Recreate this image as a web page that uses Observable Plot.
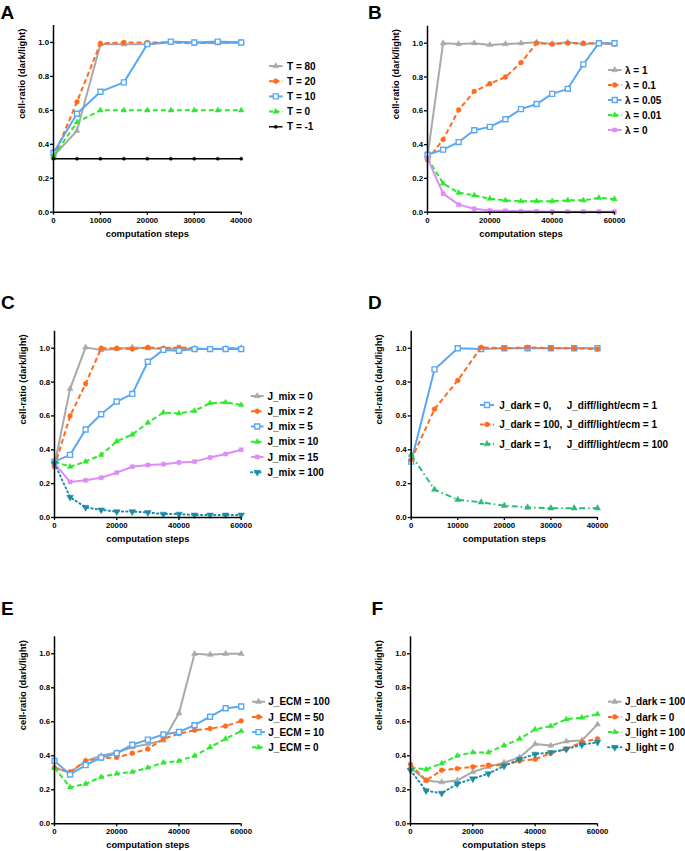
<!DOCTYPE html>
<html><head><meta charset="utf-8">
<script src="https://cdn.jsdelivr.net/npm/d3@7"></script>
<script src="https://cdn.jsdelivr.net/npm/@observablehq/plot@0.6"></script>
<style>
html,body{margin:0;padding:0;background:#fff;}
#page{position:relative;width:685px;height:851px;overflow:hidden;background:#fff;font-family:"Liberation Sans",Arial,sans-serif;font-weight:bold;}
.panel{position:absolute;}
#overlay{position:absolute;left:0;top:0;pointer-events:none;}
</style></head><body><div id="page"></div>
<script>
// ---------- data ----------
const steps40k = [0,5000,10000,15000,20000,25000,30000,35000,40000];
const steps60k = [0,5000,10000,15000,20000,25000,30000,35000,40000,45000,50000,55000,60000];
const yTicks = [0,0.2,0.4,0.6,0.8,1.0];
const xTicks40k = [0,10000,20000,30000,40000];
const xTicks60k = [0,20000,40000,60000];
const xTitle = "computation steps";
const yTitle = "cell-ratio (dark/light)";
const panelLetters = ["A","B","C","D","E","F"];

// Panel A
const A_labels = ["T = 80","T = 20","T = 10","T = 0","T = -1"];
const A_T80 = [0.33,0.48,0.99,0.99,0.99,1.0,1.0,0.995,1.0];
const A_T20 = [0.32,0.65,0.995,1.0,1.0,1.0,0.995,1.0,1.0];
const A_T10 = [0.35,0.58,0.71,0.765,0.99,1.005,1.0,1.005,1.0];
const A_T0 = [0.33,0.53,0.60,0.60,0.60,0.60,0.60,0.60,0.60];
const A_Tm1 = [0.315,0.315,0.315,0.315,0.315,0.315,0.315,0.315,0.315];

// Panel B
const B_labels = ["λ = 1","λ = 0.1","λ = 0.05","λ = 0.01","λ = 0"];
const B_l1 = [0.33,1.0,0.995,1.0,0.99,0.995,1.0,1.005,0.995,1.005,0.995,1.0,0.995];
const B_l01 = [0.31,0.43,0.605,0.715,0.76,0.80,0.885,1.0,0.995,1.0,1.0,1.0,0.995];
const B_l005 = [0.34,0.37,0.415,0.485,0.505,0.55,0.61,0.64,0.70,0.73,0.875,1.0,1.0];
const B_l001 = [0.32,0.17,0.115,0.10,0.08,0.07,0.065,0.065,0.065,0.07,0.07,0.085,0.078];
const B_l0 = [0.32,0.11,0.045,0.02,0.01,0.008,0.005,0.005,0.003,0.003,0.003,0.003,0.003];

// Panel C
const C_labels = ["J_mix = 0","J_mix = 2","J_mix = 5","J_mix = 10","J_mix = 15","J_mix = 100"];
const C_m0 = [0.31,0.76,1.005,0.99,0.995,1.005,1.0,0.995,1.0,0.995,0.995,0.995,1.0];
const C_m2 = [0.30,0.60,0.79,1.0,1.0,0.995,1.005,1.0,1.005,1.0,0.995,1.0,1.0];
const C_m5 = [0.33,0.37,0.52,0.61,0.685,0.73,0.92,0.99,0.985,0.995,0.995,0.995,0.995];
const C_m10 = [0.33,0.30,0.33,0.37,0.45,0.49,0.56,0.62,0.615,0.63,0.675,0.68,0.665];
const C_m15 = [0.32,0.21,0.22,0.235,0.265,0.30,0.31,0.315,0.325,0.33,0.355,0.375,0.40];
const C_m100 = [0.32,0.12,0.06,0.045,0.035,0.035,0.03,0.02,0.02,0.015,0.015,0.015,0.015];

// Panel D
const D_labelsA = ["J_dark = 0,","J_dark = 100,","J_dark = 1,"];
const D_labelsB = ["J_diff/light/ecm = 1","J_diff/light/ecm = 1","J_diff/light/ecm = 100"];
const D_d0 = [0.33,0.875,1.0,0.995,1.0,1.0,1.0,1.0,1.0];
const D_d100 = [0.34,0.64,0.81,1.005,1.0,1.005,1.0,1.0,0.995];
const D_d1 = [0.37,0.165,0.105,0.09,0.07,0.06,0.055,0.055,0.055];

// Panel E
const E_labels = ["J_ECM = 100","J_ECM = 50","J_ECM = 10","J_ECM = 0"];
const E_e100 = [0.33,0.30,0.37,0.40,0.42,0.45,0.47,0.49,0.65,1.0,0.995,1.0,1.0];
const E_e50 = [0.33,0.305,0.37,0.385,0.39,0.415,0.44,0.50,0.53,0.55,0.56,0.575,0.605];
const E_e10 = [0.37,0.29,0.345,0.39,0.415,0.465,0.495,0.525,0.54,0.58,0.63,0.68,0.69];
const E_e0 = [0.33,0.215,0.235,0.275,0.295,0.305,0.33,0.36,0.37,0.40,0.45,0.50,0.545];

// Panel F
const F_labels = ["J_dark = 100","J_dark = 0","J_light = 100","J_light = 0"];
const F_d100 = [0.33,0.255,0.245,0.255,0.305,0.335,0.36,0.39,0.47,0.46,0.485,0.49,0.585];
const F_d0 = [0.35,0.255,0.315,0.325,0.335,0.345,0.345,0.37,0.38,0.415,0.44,0.48,0.50];
const F_l100 = [0.33,0.32,0.355,0.40,0.42,0.42,0.46,0.50,0.555,0.575,0.615,0.625,0.645];
const F_l0 = [0.315,0.195,0.18,0.235,0.265,0.295,0.34,0.38,0.41,0.42,0.44,0.465,0.48];

// ---------- styles ----------
const styles = {
  gray:    {color:"#A9A9A9", dash:null,        symbol:"triangle", r:2.2, fill:true},
  orange:  {color:"#FF6A1F", dash:"5,3",       symbol:"circle",   r:2.4, fill:true},
  blue:    {color:"#5AA8F5", dash:null,        symbol:"square",   r:2.8, fill:false},
  green:   {color:"#2EE82E", dash:"5,3",       symbol:"triangle", r:2.1, fill:true},
  black:   {color:"#000000", dash:null,        symbol:"circle",   r:1.6, fill:true, width:1.4},
  violet:  {color:"#DD8CF8", dash:null,        symbol:"square",   r:2.3, fill:true},
  teal:    {color:"#1A8CA4", dash:"1.2,3.2",   symbol:"triangle", r:2.5, fill:true, rotate:180},
  seagreen:{color:"#2CBB78", dash:"6,3,1.5,3", symbol:"triangle", r:2.3, fill:true}
};

const panels = [
  {letter:"A", steps:steps40k, xTicks:xTicks40k, x0:53, x1:240.7, yZero:211.7, yTop:25,
   series:[[A_labels[0],A_T80,"gray"],[A_labels[1],A_T20,"orange"],[A_labels[2],A_T10,"blue"],[A_labels[3],A_T0,"green"],[A_labels[4],A_Tm1,"black"]],
   legend:{sx0:269, sx1:282.5, tx:287, y0:66, step:15.2}, letterPos:[0.5,18.5]},
  {letter:"B", steps:steps60k, xTicks:xTicks60k, x0:427, x1:614, yZero:211.7, yTop:25.8,
   series:[[B_labels[0],B_l1,"gray"],[B_labels[1],B_l01,"orange"],[B_labels[2],B_l005,"blue"],[B_labels[3],B_l001,"green"],[B_labels[4],B_l0,"violet"]],
   legend:{sx0:608, sx1:621.5, tx:625, y0:70, step:15}, letterPos:[368,18.5]},
  {letter:"C", steps:steps60k, xTicks:xTicks60k, x0:54, x1:240.7, yZero:517, yTop:330.8,
   series:[[C_labels[0],C_m0,"gray"],[C_labels[1],C_m2,"orange"],[C_labels[2],C_m5,"blue"],[C_labels[3],C_m10,"green"],[C_labels[4],C_m15,"violet"],[C_labels[5],C_m100,"teal"]],
   legend:{sx0:251, sx1:263.5, tx:267.5, y0:396, step:15.25}, letterPos:[1,308.5]},
  {letter:"D", steps:steps40k, xTicks:xTicks40k, x0:410.7, x1:597, yZero:517, yTop:330.8,
   series:[[D_labelsA[0],D_d0,"blue",D_labelsB[0]],[D_labelsA[1],D_d100,"orange",D_labelsB[1]],[D_labelsA[2],D_d1,"seagreen",D_labelsB[2]]],
   legend:{sx0:480, sx1:494, tx:499.3, tx2:566.7, y0:405, step:19.5}, letterPos:[368,308.5]},
  {letter:"E", steps:steps60k, xTicks:xTicks60k, x0:54, x1:240.7, yZero:823.3, yTop:636.3,
   series:[[E_labels[0],E_e100,"gray"],[E_labels[1],E_e50,"orange"],[E_labels[2],E_e10,"blue"],[E_labels[3],E_e0,"green"]],
   legend:{sx0:252, sx1:265, tx:268.3, y0:701.7, step:15.2}, letterPos:[1,615]},
  {letter:"F", steps:steps60k, xTicks:xTicks60k, x0:410, x1:597, yZero:823.3, yTop:636.3,
   series:[[F_labels[0],F_d100,"gray"],[F_labels[1],F_d0,"orange"],[F_labels[2],F_l100,"green"],[F_labels[3],F_l0,"teal"]],
   legend:{sx0:608, sx1:621.5, tx:625, y0:701.7, step:15.2}, letterPos:[371.5,615]}
];

const page = document.getElementById("page");
const ML = 50, MR = 14, MT = 12, MB = 34;

for (const p of panels) {
  const left = Math.floor(p.x0) - ML;
  const top = Math.floor(p.yTop) - MT;
  const mL = p.x0 - left, mT = p.yTop - top;
  const width = Math.ceil(p.x1 - left + MR);
  const height = Math.ceil(p.yZero - top + MB);
  const mR = width - (p.x1 - left), mB = height - (p.yZero - top);
  const xMax = p.steps[p.steps.length - 1];
  const marks = [];
  for (const [label, values, sk] of p.series) {
    const st = styles[sk];
    const rows = values.map((v, i) => ({x: p.steps[i], y: v, s: label}));
    marks.push(Plot.line(rows, {x:"x", y:"y", stroke: st.color, strokeWidth: st.width || 2,
      strokeDasharray: st.dash || undefined, strokeLinecap: st.dash && st.dash.startsWith("1.2") ? "round" : "butt"}));
    marks.push(Plot.dot(rows, {x:"x", y:"y", symbol: st.symbol, r: st.r, rotate: st.rotate || 0,
      fill: st.fill ? st.color : "white", stroke: st.color, strokeWidth: st.fill ? 0.5 : 1.4}));
  }
  const svg = Plot.plot({
    width, height, marginLeft: mL, marginRight: mR, marginTop: mT, marginBottom: mB,
    x: {domain: [0, xMax]}, y: {domain: [0, 1.1]},
    style: {fontFamily: '"Liberation Sans", Arial, sans-serif', fontWeight: "bold", fontSize: "7.8px", color: "black", background: "transparent", overflow: "visible"},
    marks: [
      ...marks,
      Plot.ruleX([0], {stroke: "black", strokeWidth: 1.5}),
      Plot.ruleY([0], {stroke: "black", strokeWidth: 1.5}),
      Plot.axisY(yTicks, {tickSize: 3, tickPadding: 1.5, strokeWidth: 1.3, tickFormat: d => d.toFixed(1), label: null, fontSize: 7.8}),
      Plot.axisX(p.xTicks, {tickSize: 3, tickPadding: 2, strokeWidth: 1.3, tickFormat: d => String(d), label: null, fontSize: 7.8}),
      Plot.text([xTitle], {frameAnchor: "bottom", dy: 21.6, fontSize: 9.4, lineAnchor: "middle"}),
      Plot.text([yTitle], {frameAnchor: "left", dx: -32, rotate: -90, fontSize: 9.4, lineAnchor: "middle"})
    ]
  });
  const div = document.createElement("div");
  div.className = "panel";
  div.style.left = left + "px";
  div.style.top = top + "px";
  div.appendChild(svg);
  page.appendChild(div);
}

// ---------- overlay: letters + legends ----------
const ov = d3.select(page).append("svg").attr("id", "overlay").attr("width", 685).attr("height", 851)
  .style("font-family", '"Liberation Sans", Arial, sans-serif').style("font-weight", "bold");

const symMap = {circle: d3.symbolCircle, square: d3.symbolSquare, triangle: d3.symbolTriangle};
panels.forEach((p, pi) => {
  ov.append("text").attr("x", p.letterPos[0]).attr("y", p.letterPos[1]).attr("font-size", 19)
    .attr("fill", "black").text(panelLetters[pi]);
  const L = p.legend;
  p.series.forEach(([label, , sk, label2], i) => {
    const st = styles[sk];
    const cy = L.y0 + i * L.step;
    const g = ov.append("g");
    g.append("line").attr("x1", L.sx0).attr("x2", L.sx1).attr("y1", cy).attr("y2", cy)
      .attr("stroke", st.color).attr("stroke-width", st.width || 2)
      .attr("stroke-dasharray", st.dash ? (st.dash.startsWith("1.2") ? "1.2,3" : "4,2.5") : null)
      .attr("stroke-linecap", st.dash && st.dash.startsWith("1.2") ? "round" : "butt");
    const size = Math.PI * st.r * st.r;
    g.append("path").attr("d", d3.symbol(symMap[st.symbol], size)())
      .attr("transform", `translate(${(L.sx0 + L.sx1) / 2},${cy}) rotate(${st.rotate || 0})`)
      .attr("fill", st.fill ? st.color : "white").attr("stroke", st.color)
      .attr("stroke-width", st.fill ? 0.5 : 1.4);
    g.append("text").attr("x", L.tx).attr("y", cy + 3.6).attr("font-size", 10).attr("fill", "black").text(label);
    if (label2) g.append("text").attr("x", L.tx2).attr("y", cy + 3.6).attr("font-size", 10).attr("fill", "black").text(label2);
  });
});
</script></body></html>
